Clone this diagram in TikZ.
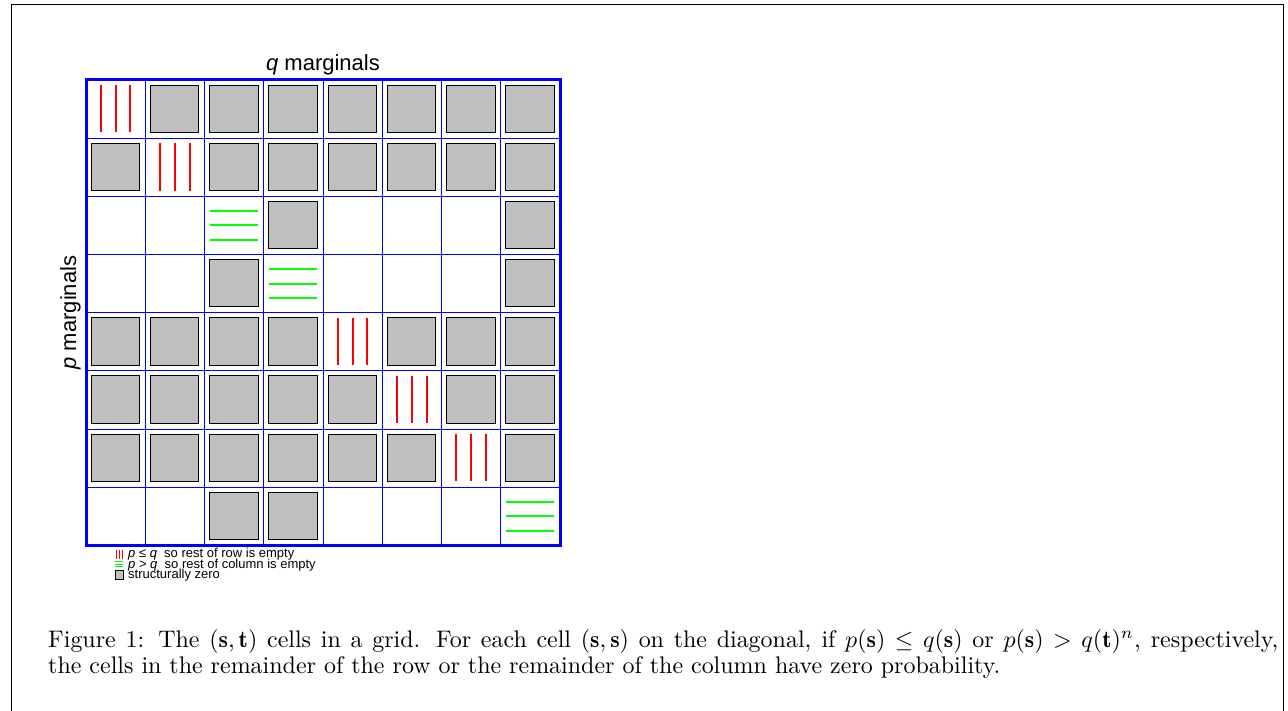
\documentclass[tikz,border=0pt]{standalone}
\usepackage{graphicx}
\usepackage{fontspec}
\newfontfamily\hv{Liberation Sans}
\definecolor{zgray}{RGB}{191,191,191}
\newcommand{\captwotext}{the cells in the remainder of the row or the remainder of the column have zero probability.}
\newcommand{\caponetext}{Figure 1: The $(\mathbf{s},\mathbf{t})$ cells in a grid. For each cell $(\mathbf{s},\mathbf{s})$ on the diagonal, if $p(\mathbf{s})\leq q(\mathbf{s})$ or $p(\mathbf{s})>q(\mathbf{t})^n$, respectively,}
\newsavebox\captwobox
\newlength\captwolen
\begin{document}
\sbox\captwobox{\fontsize{10}{12}\selectfont\captwotext}%
\setlength\captwolen{\wd\captwobox}%
\pgfmathsetmacro\capscale{952/\captwolen}%
\pgfmathsetmacro\lineonew{1230/\capscale}%
\begin{tikzpicture}[x=1pt,y=-1pt,
  zerobox/.style={fill=zgray, draw=black, line width=0.9pt},
  redmark/.style={draw=red, line width=2pt},
  greenmark/.style={draw=green, line width=2pt},
  gridthin/.style={draw=blue, line width=0.9pt},
  gridthick/.style={draw=blue, line width=3pt},
  frameline/.style={draw=black, line width=0.9pt},
  captext/.style={anchor=base west, inner sep=0pt, font=\fontsize{10}{12}\selectfont},
  legtext/.style={anchor=base west, inner sep=0pt, font=\hv\fontsize{13}{13}\selectfont},
  axistext/.style={anchor=base, inner sep=0pt, font=\hv\fontsize{22}{26}\selectfont},
]
\useasboundingbox (0,0) rectangle (1288,711);
% outer frame
\draw[frameline] (11,711) -- (11,4) -- (1283,4) -- (1283,711);
% thin grid
\foreach \i in {1,...,7} {
  \draw[gridthin] ({86+\i*59.25},80) -- ({86+\i*59.25},545.3);
  \draw[gridthin] (86,{80+\i*58.16}) -- (560,{80+\i*58.16});
}
% cells
\foreach \rowpat [count=\r from 0] in {{R,Z,Z,Z,Z,Z,Z,Z},{Z,R,Z,Z,Z,Z,Z,Z},{E,E,G,Z,E,E,E,Z},{E,E,Z,G,E,E,E,Z},{Z,Z,Z,Z,R,Z,Z,Z},{Z,Z,Z,Z,Z,R,Z,Z},{Z,Z,Z,Z,Z,Z,R,Z},{E,E,Z,Z,E,E,E,G}} {
  \foreach \t [count=\c from 0] in \rowpat {
    \pgfmathsetmacro\xa{86+\c*59.25}
    \pgfmathsetmacro\ya{80+\r*58.16}
    \if\t Z
      \draw[zerobox] (\xa+5,\ya+5) rectangle (\xa+53.5,\ya+52.4);
    \fi
    \if\t R
      \foreach \k in {1,2,3} {
        \draw[redmark] (\xa+\k*14.81,\ya+5) -- (\xa+\k*14.81,\ya+52.4);
      }
    \fi
    \if\t G
      \foreach \k in {1,2,3} {
        \draw[greenmark] (\xa+5,\ya+\k*14.54) -- (\xa+53.5,\ya+\k*14.54);
      }
    \fi
  }
}
% thick border
\draw[gridthick] (86,80) rectangle (560,545.3);
% axis labels
\node[axistext] (qlabel) at (323,71) {\textit{q} marginals};
\node[axistext, rotate=90] (plabel) at (76,312.6) {\textit{p} marginals};
% legend
\foreach \k in {0,1,2} {
  \draw[red, line width=1pt] ({116+\k*3},549.5) -- ({116+\k*3},558.5);
  \draw[green, line width=1pt] (115,{561.5+\k*2.6}) -- (123,{561.5+\k*2.6});
}
\draw[zerobox, line width=0.6pt] (115,570) rectangle (123,579);
\node[legtext] (leg1) at (128,557.5) {\textit{p} ≤ \textit{q}\ \ so rest of row is empty};
\node[legtext] (leg2) at (128,568) {\textit{p} > \textit{q}\ \ so rest of column is empty};
\node[legtext] (leg3) at (128,578.5) {structurally zero};
% caption
\node[captext] (cap1) at (48,647) {\scalebox{\capscale}{\makebox[\lineonew pt][s]{\caponetext}}};
\node[captext] (cap2) at (48,673) {\scalebox{\capscale}{\captwotext}};
\end{tikzpicture}
\end{document}
